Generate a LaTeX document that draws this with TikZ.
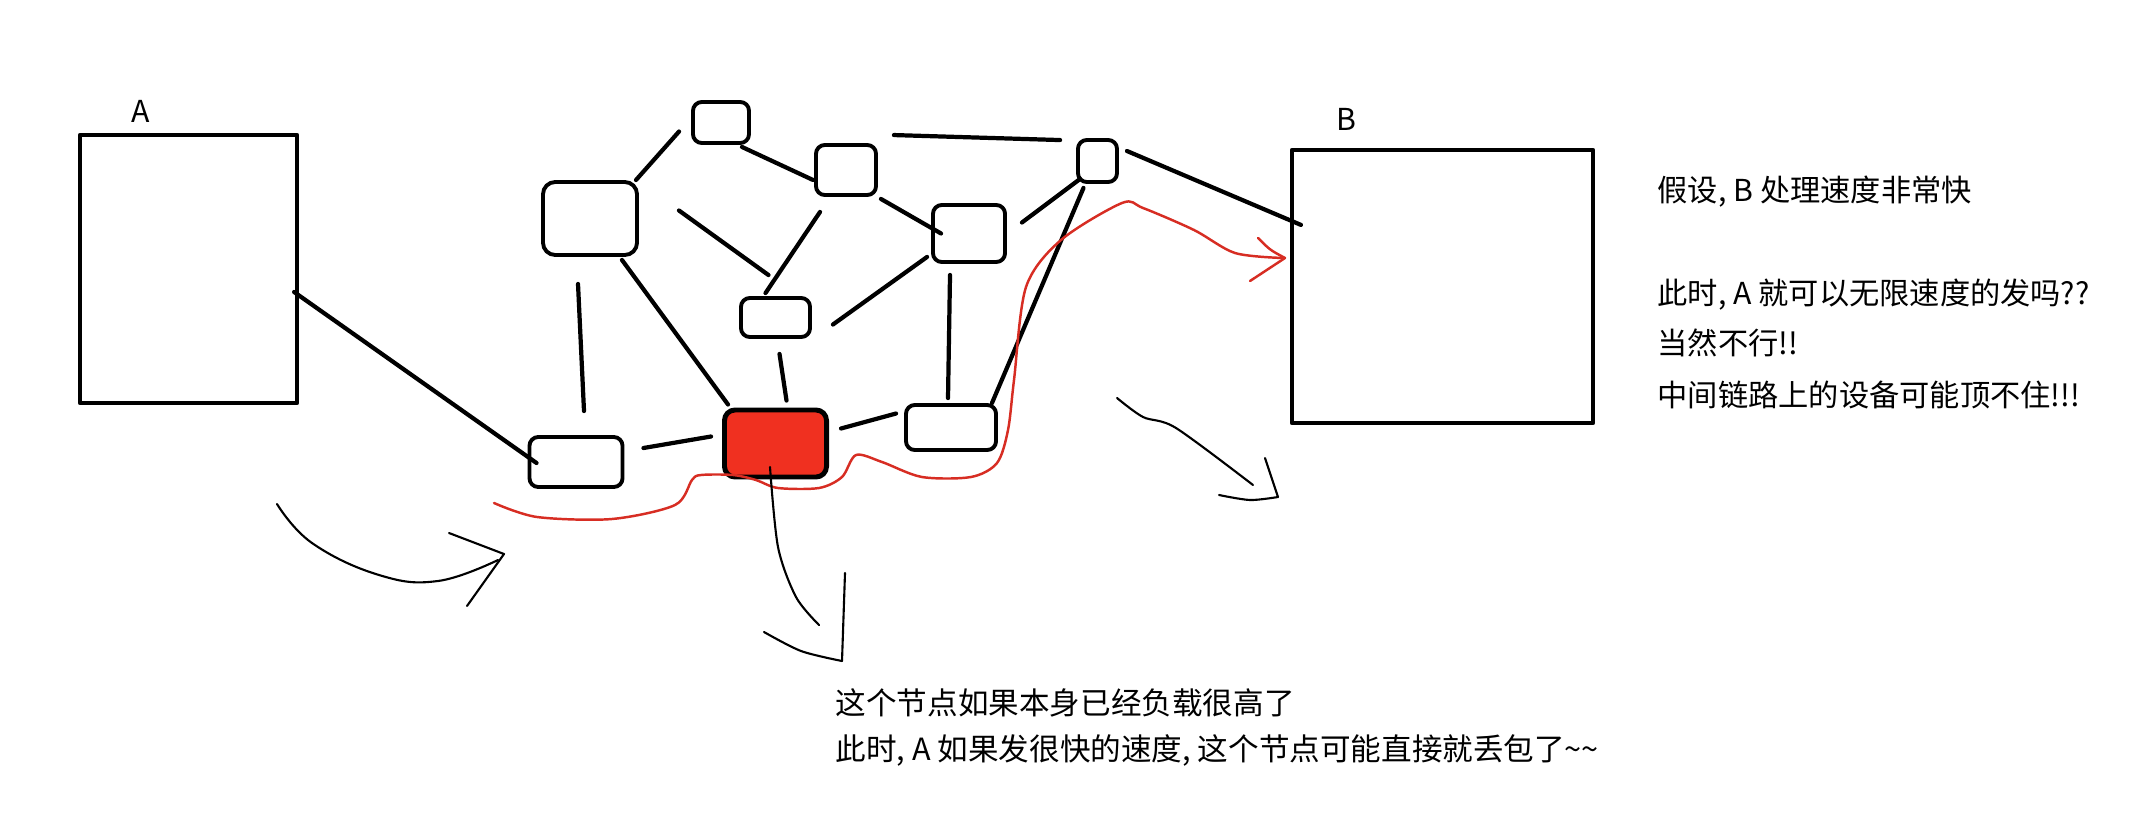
\documentclass[tikz,border=0pt]{standalone}
\usepackage{fontspec}
\setmainfont{Noto Sans CJK SC}

\begin{document}
\begin{tikzpicture}[x=0.01cm,y=-0.01cm,line join=round,
  host/.style={draw,line width=1.15pt,inner sep=0pt},
  router/.style={draw,line width=1.1pt,rounded corners=2.5pt,inner sep=0pt},
  link/.style={line width=1.2pt,line cap=round},
  stroke/.style={line width=0.6pt,line cap=round},
  flow/.style={pathred,line width=0.7pt,line cap=round},
  note/.style={anchor=west,inner sep=0pt,font=\fontsize{8.6}{10}\selectfont}]
\definecolor{overload}{RGB}{240,48,32}
\definecolor{pathred}{RGB}{215,45,35}
\useasboundingbox (0,0) rectangle (2134,815);

% The two end hosts.
\node[host,minimum width=2.17cm,minimum height=2.68cm] (A) at (188.5,269) {};
\node[host,minimum width=3.01cm,minimum height=2.73cm] (B) at (1442.5,286.5) {};
\node[font=\fontsize{8.6}{10}\selectfont] (labA) at (141,111) {A};
\node[font=\fontsize{8.6}{10}\selectfont] (labB) at (1346,119) {B};

% Devices on the way between A and B.
\node[router,minimum width=0.93cm,minimum height=0.50cm] (n1) at (576,462) {};
\node[router,rounded corners=3.5pt,minimum width=0.94cm,minimum height=0.73cm] (n2) at (590,218.5) {};
\node[router,minimum width=0.56cm,minimum height=0.41cm] (n3) at (721,122.5) {};
\node[router,minimum width=0.60cm,minimum height=0.50cm] (n4) at (846,170) {};
\node[router,minimum width=0.69cm,minimum height=0.39cm] (n5) at (775.5,317.5) {};
\node[router,minimum width=0.72cm,minimum height=0.57cm] (n6) at (969,233.5) {};
\node[router,minimum width=0.39cm,minimum height=0.42cm] (n7) at (1097.5,161) {};
\node[router,minimum width=0.90cm,minimum height=0.45cm] (n9) at (951,427.5) {};
% the overloaded one
\node[router,fill=overload,line width=1.4pt,rounded corners=3pt,
  minimum width=1.02cm,minimum height=0.67cm] (hot) at (775.5,443.5) {};

% Links, drawn by hand: most of them stop short of the boxes.
\draw[link] ([shift={(-5,23)}]A.east) -- ([shift={(9,1)}]n1.west);
\draw[link] ([shift={(-3,0)}]n2.north east) -- ([shift={(-12,9)}]n3.west);
\draw[link] ([shift={(-9,2)}]n3.south east) -- ([shift={(-1,10)}]n4.west);
\draw[link] ([shift={(16,-8)}]n4.north east) -- ([shift={(-16,2)}]n7.north west);
\draw[link] ([shift={(8,-10)}]n7.east) -- ([shift={(11,77)}]B.north west);
\draw[link] ([shift={(40,-8)}]n2.east) -- ([shift={(-7,-21)}]n5.north);
\draw[link] ([shift={(-26,15)}]n4.south) -- ([shift={(-10,-3)}]n5.north);
\draw[link] ([shift={(3,2)}]n4.south east) -- ([shift={(10,0)}]n6.west);
\draw[link] ([shift={(15,-11)}]n6.east) -- ([shift={(4,-5)}]n7.south west);
\draw[link] ([shift={(21,7)}]n5.east) -- ([shift={(-4,-7)}]n6.south west);
\draw[link] ([shift={(-19,11)}]n6.south) -- ([shift={(-3,-5)}]n9.north);
\draw[link] ([shift={(-14,4)}]n7.south) -- ([shift={(-6,0)}]n9.north east);
\draw[link] ([shift={(-12,27)}]n2.south) -- ([shift={(8,-24)}]n1.north);
\draw[link] ([shift={(-17,3)}]n2.south east) -- ([shift={(6,-3)}]hot.north west);
\draw[link] ([shift={(4,15)}]n5.south) -- ([shift={(11,-7)}]hot.north);
\draw[link] ([shift={(19,-14)}]n1.east) -- ([shift={(-11,-7)}]hot.west);
\draw[link] ([shift={(12,-15)}]hot.east) -- ([shift={(-8,-14)}]n9.west);

% Red route from A's side to B.
\draw[flow] plot[smooth,tension=0.5] coordinates {(494,503) (537,517) (612,519)
  (675,505) (692,480) (701,475) (733,475) (756,480) (778,488) (819,488) (842,477)
  (856,455) (882,462) (922,477) (971,477) (997,463) (1008,430) (1014,380)
  (1026,287) (1061,240) (1122,203) (1143,208) (1194,230) (1235,253) (1283,258)};
\draw[flow] (1258,238) .. controls (1270,250) .. (1285,258) -- (1250,281);

% Hand-drawn arrows.
\draw[stroke] plot[smooth,tension=0.7] coordinates {(277,504) (312,543) (379,575) (438,581) (498,560)};
\draw[stroke] (449,533) -- (504,554) -- (467,606);
\draw[stroke] plot[smooth] coordinates {(770,467) (778,547) (796,597) (819,625)};
\draw[stroke] plot[smooth] coordinates {(764,632) (801,651) (842,661)} -- (845,573);
\draw[stroke] plot[smooth] coordinates {(1117,398) (1143,417) (1176,428) (1253,485)};
\draw[stroke] plot[smooth] coordinates {(1219,495) (1250,500) (1278,497)} -- (1265,458);

% Remarks.
\node[note] (q1) at (1657,192) {假设, B 处理速度非常快};
\node[note] (q2) at (1657,295) {此时, A 就可以无限速度的发吗??};
\node[note] (q3) at (1657,343) {当然不行!!};
\node[note] (q4) at (1657,395) {中间链路上的设备可能顶不住!!!};
\node[note,font=\fontsize{8.7}{10}\selectfont] (d1) at (835,703) {这个节点如果本身已经负载很高了};
\node[note,font=\fontsize{8.7}{10}\selectfont] (d2) at (835,750)
  {此时, A 如果发很快的速度, 这个节点可能直接就丢包了{\textasciitilde}{\textasciitilde}};
\end{tikzpicture}
\end{document}
